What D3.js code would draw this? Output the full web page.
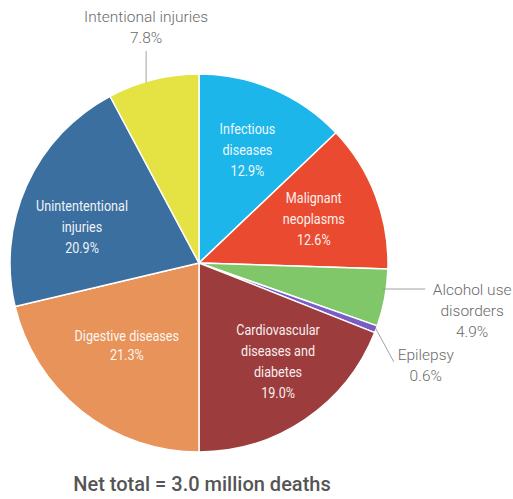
<!DOCTYPE html>
<html>
<head>
<meta charset="utf-8">
<script src="https://cdn.jsdelivr.net/npm/d3@7"></script>
<style>
  body { margin: 0; background: #fff; }
  svg text { font-family: Roboto, "Open Sans", sans-serif; }
</style>
</head>
<body>
<div id="chart"></div>
<script>
const categories = [
  "Infectious diseases",
  "Malignant neoplasms",
  "Alcohol use disorders",
  "Epilepsy",
  "Cardiovascular diseases and diabetes",
  "Digestive diseases",
  "Unintentional injuries",
  "Intentional injuries"
]
const shares = [12.9, 12.6, 4.9, 0.6, 19.0, 21.3, 20.9, 7.8]
const labelLines = [
  ["Infectious", "diseases", "12.9%"],
  ["Malignant", "neoplasms", "12.6%"],
  ["Alcohol use", "disorders", "4.9%"],
  ["Epilepsy", "0.6%"],
  ["Cardiovascular", "diseases and", "diabetes", "19.0%"],
  ["Digestive diseases", "21.3%"],
  ["Unintententional", "injuries", "20.9%"],
  ["Intentional injuries", "7.8%"]
]
const colors = ["#1cb6ea", "#ea4b30", "#80c76a", "#7a5cc6", "#9d3c3d", "#e8935a", "#3b6f9f", "#e5e244"]
const outside = ["Alcohol use disorders", "Epilepsy", "Intentional injuries"]
const totalLabel = "Net total = 3.0 million deaths"

const width = 513, height = 499
const cx = 199, cy = 263, radius = 189

// small hand nudges for the inside labels
const nudge = {
  "Unintentional injuries": [-5, 15],
  "Digestive diseases": [4, -14],
  "Cardiovascular diseases and diabetes": [10, -3]
}

const svg = d3.select("#chart").append("svg")
    .attr("width", width)
    .attr("height", height)

const g = svg.append("g")
    .attr("transform", `translate(${cx},${cy})`)

const pie = d3.pie()
  .sort(null)
  .value(d => d.value)

const data = categories.map((c, i) => ({ name: c, value: shares[i], lines: labelLines[i], color: colors[i] }))
const arcs = pie(data)

const arc = d3.arc().innerRadius(0).outerRadius(radius)
const labelArc = d3.arc().innerRadius(radius * 0.65).outerRadius(radius * 0.65)

// slices
g.selectAll("path.slice")
  .data(arcs)
  .join("path")
    .attr("class", "slice")
    .attr("d", arc)
    .attr("fill", d => d.data.color)
    .attr("stroke", "#fff")
    .attr("stroke-width", 1.5)
    .attr("stroke-linejoin", "round")

// inside labels (condensed look via horizontal squeeze)
arcs.filter(d => !outside.includes(d.data.name)).forEach(d => {
  let [x, y] = labelArc.centroid(d)
  const off = nudge[d.data.name] || [0, 0]
  x += off[0]
  y += off[1]
  const n = d.data.lines.length
  const lineH = d.data.name === "Digestive diseases" ? 19 : 21
  const t = g.append("text")
      .attr("transform", `translate(${x},${y}) scale(0.84,1)`)
      .attr("text-anchor", "middle")
      .attr("fill", "#fff")
      .attr("font-size", 15)
      .attr("opacity", 0.92)
  d.data.lines.forEach((ln, i) => {
    t.append("tspan")
        .attr("x", 0)
        .attr("y", (i - (n - 1) / 2) * lineH + 5)
        .text(ln)
  })
})

// outside labels with leader lines
const mid = d => (d.startAngle + d.endAngle) / 2
const onCircle = (a, r) => [Math.sin(a) * r, -Math.cos(a) * r]

arcs.filter(d => outside.includes(d.data.name)).forEach(d => {
  const a = mid(d)
  let p0, p1, tx, ty
  if (d.data.name === "Intentional injuries") {
    p0 = onCircle(a - 0.04, radius - 1)
    p1 = [p0[0], -radius - 23]
    tx = p0[0]
    ty = p1[1] - 29
  } else if (d.data.name === "Alcohol use disorders") {
    p0 = onCircle(a - 0.045, radius - 3)
    p1 = [p0[0] + 42, p0[1]]
    tx = p1[0] + 47
    ty = p0[1] + 6
  } else {
    p0 = onCircle(a - 0.01, radius - 2)
    p1 = [p0[0] + 19, p0[1] + 35]
    tx = p1[0] + 32
    ty = p1[1] - 2
  }
  g.append("line")
      .attr("x1", p0[0]).attr("y1", p0[1])
      .attr("x2", p1[0]).attr("y2", p1[1])
      .attr("stroke", "#8a8a8a")
      .attr("stroke-width", 0.8)
  const t = g.append("text")
      .attr("text-anchor", "middle")
      .attr("fill", "#6b6b6b")
      .attr("font-size", 15.5)
      .attr("font-weight", 300)
  d.data.lines.forEach((ln, i) => {
    t.append("tspan")
        .attr("x", tx)
        .attr("y", ty + i * 21)
        .text(ln)
  })
})

svg.append("text")
    .attr("x", cx + 3)
    .attr("y", 491)
    .attr("text-anchor", "middle")
    .attr("fill", "#555")
    .attr("font-size", 20)
    .attr("font-weight", 500)
    .text(totalLabel)
</script>
</body>
</html>
